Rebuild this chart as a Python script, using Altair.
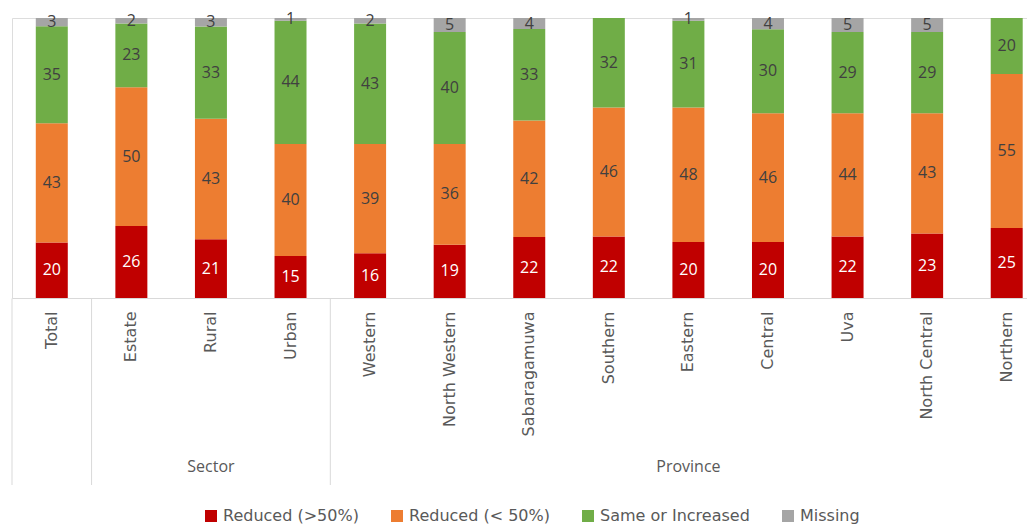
import altair as alt
import pandas as pd

categories = ["Total", "Estate", "Rural", "Urban", "Western", "North Western",
              "Sabaragamuwa", "Southern", "Eastern", "Central", "Uva",
              "North Central", "Northern"]
series = ["Reduced (>50%)", "Reduced (< 50%)", "Same or Increased", "Missing"]
colors = ["#C00000", "#ED7D31", "#70AD47", "#A5A5A5"]

reduced_major = [20, 26, 21, 15, 16, 19, 22, 22, 20, 20, 22, 23, 25]
reduced_minor = [43, 50, 43, 40, 39, 36, 42, 46, 48, 46, 44, 43, 55]
same_or_incr = [35, 23, 33, 44, 43, 40, 33, 32, 31, 30, 29, 29, 20]
missing = [3, 2, 3, 1, 2, 5, 4, 0, 1, 4, 5, 5, 0]

group_names = ["Sector", "Province"]
group_centers = ["Rural", "Eastern"]      # middle category of each group
group_starts = ["Total", "Estate", "Western"]  # category where a group boundary begins

rows = []
for i, c in enumerate(categories):
    for k, (s, vals) in enumerate(zip(series, [reduced_major, reduced_minor, same_or_incr, missing])):
        rows.append({"category": c, "series": s, "order": k, "value": vals[i]})
df = pd.DataFrame(rows)

grp_df = pd.DataFrame({"category": group_centers, "name": group_names})
sep_df = pd.DataFrame({"category": group_starts})

TXT = "#595959"
p_inner = 0.598
p_outer = 0.299
range_w = 1034.5
step = range_w / len(categories)

xscale = alt.Scale(domain=categories, range=[0, range_w],
                   paddingInner=p_inner, paddingOuter=p_outer)
yscale = alt.Scale(domain=[0, 1])

x_enc = alt.X("category:N", scale=xscale, sort=categories,
              axis=alt.Axis(title=None, labelAngle=270, labelFont="DejaVu Sans",
                            labelFontSize=16, labelColor=TXT, ticks=False, tickSize=0,
                            labelPadding=13, domainColor="#D9D9D9", domainWidth=1,
                            labelOverlap=False, labelBound=False, labelLimit=400,
                            grid=False))

base = alt.Chart(df).transform_stack(
    stack="value", groupby=["category"],
    sort=[alt.SortField("order", order="ascending")],
    offset="normalize", as_=["y0", "y1"]
).transform_calculate(mid="(datum.y0 + datum.y1) / 2")

bars = base.mark_bar(strokeWidth=0).encode(
    x=x_enc,
    y=alt.Y("y0:Q", scale=yscale, axis=None),
    y2="y1:Q",
    color=alt.Color("series:N", scale=alt.Scale(domain=series, range=colors),
                    sort=series,
                    legend=alt.Legend(title=None, orient="none", direction="horizontal",
                                      legendX=191, legendY=490, symbolType="square",
                                      symbolSize=144, symbolStrokeWidth=0,
                                      labelFont="DejaVu Sans", labelFontSize=16,
                                      labelColor=TXT, labelOffset=4, columnPadding=30,
                                      labelLimit=400)),
)

labels = base.transform_filter("datum.value > 0").mark_text(
    font="Open Sans", fontSize=16, baseline="middle", align="center"
).encode(
    x=alt.X("category:N", scale=xscale, sort=categories),
    y=alt.Y("mid:Q", scale=yscale),
    text=alt.Text("value:Q"),
    color=alt.condition(alt.datum.series == series[0], alt.value("white"), alt.value("#404040")),
)

seps = alt.Chart(sep_df).mark_rule(color="#D9D9D9", strokeWidth=1,
                                   xOffset=-p_outer * step).encode(
    x=alt.X("category:N", scale=xscale, sort=categories, bandPosition=0),
    y=alt.value(280.5),
    y2=alt.value(467),
)

groups = alt.Chart(grp_df).mark_text(
    font="Open Sans", fontSize=16, color=TXT, baseline="middle", align="center"
).encode(
    x=alt.X("category:N", scale=xscale, sort=categories),
    y=alt.value(449),
    text="name:N",
)

chart = alt.layer(bars, labels, seps, groups).properties(
    width=1015, height=280,
    autosize=alt.AutoSizeParams(type="none"),
    padding={"left": 4, "top": 10, "right": 0, "bottom": 227},
).configure_view(stroke=None).configure(background="white")

chart.save("out.html", embed_options={"renderer": "svg", "actions": False})
